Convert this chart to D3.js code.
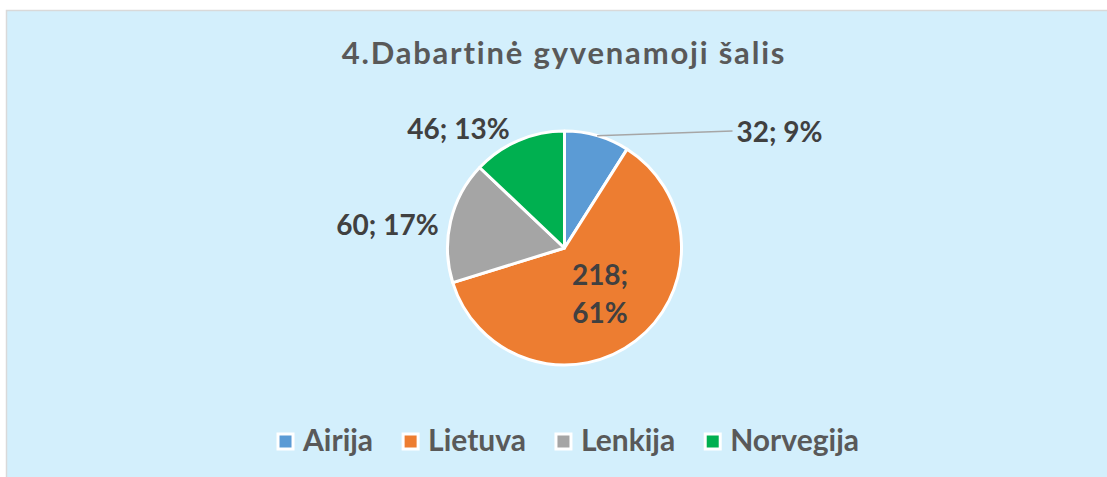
<!DOCTYPE html>
<html>
<head>
<meta charset="utf-8">
<script src="https://cdn.jsdelivr.net/npm/d3@7"></script>
<style>
  body { margin: 0; background: #fff; }
  svg text { font-family: Lato, "Open Sans", sans-serif; font-weight: bold; }
</style>
</head>
<body>
<svg id="chart"></svg>
<script>
var title = '4.Dabartinė gyvenamoji šalis';
var countries = ['Airija', 'Lietuva', 'Lenkija', 'Norvegija'];
var counts = [32, 218, 60, 46];
var percents = ['9%', '61%', '17%', '13%'];

var colors = ['#5B9BD5', '#ED7D31', '#A5A5A5', '#00B050'];

var w = 1107;
var h = 477;
var cx = 564.5;
var cy = 248;
var radius = 117;

// outside label spots relative to the pie centre (null = inside the slice)
var label_spots = [
	{dx: 215, dy: -116, anchor: 'middle', leader: true},
	null,
	{dx: -177, dy: -23, anchor: 'middle'},
	{dx: -106, dy: -119.5, anchor: 'middle'}
];

var svg = d3.select('#chart')
	.attr('width', w)
	.attr('height', h);

svg.append('rect')
	.attr('x', 6.5)
	.attr('y', 10.5)
	.attr('width', w)
	.attr('height', h)
	.attr('fill', '#D3EFFC')
	.attr('stroke', '#D9D9D9')
	.attr('stroke-width', 1.5);

svg.append('text')
	.text(title)
	.attr('x', 564)
	.attr('y', 64)
	.attr('text-anchor', 'middle')
	.attr('font-size', '31px')
	.attr('letter-spacing', '1.8px')
	.attr('fill', '#595959');

var data = countries.map(function(c, i) {
	return {name: c, value: counts[i], pct: percents[i], color: colors[i], spot: label_spots[i]};
});

var pie = d3.pie()
	.value(function(d) { return d.value; })
	.sort(null);

var arc = d3.arc()
	.innerRadius(0)
	.outerRadius(radius);

var arcs = pie(data);

var g = svg.append('g')
	.attr('transform', 'translate(' + cx + ',' + cy + ')');

g.selectAll('path')
	.data(arcs)
	.join('path')
	.attr('d', arc)
	.attr('fill', function(d) { return d.data.color; })
	.attr('stroke', '#fff')
	.attr('stroke-width', 3)
	.attr('stroke-linejoin', 'round');

// leader line
arcs.forEach(function(d) {
	var s = d.data.spot;
	if (s && s.leader) {
		var mid = (d.startAngle + d.endAngle) / 2;
		g.append('line')
			.attr('x1', Math.sin(mid) * radius)
			.attr('y1', -Math.cos(mid) * radius)
			.attr('x2', s.dx - 47)
			.attr('y2', s.dy - 1)
			.attr('stroke', '#A6A6A6')
			.attr('stroke-width', 1.5);
	}
});

arcs.forEach(function(d) {
	var s = d.data.spot;
	if (s) {
		g.append('text')
			.text(d.data.value + '; ' + d.data.pct)
			.attr('x', s.dx)
			.attr('y', s.dy + 10)
			.attr('text-anchor', s.anchor)
			.attr('font-size', '28px')
			.attr('fill', '#404040');
	} else {
		var c = arc.centroid(d);
		var t = g.append('text')
			.attr('text-anchor', 'middle')
			.attr('font-size', '28px')
			.attr('fill', '#404040');
		t.append('tspan')
			.attr('x', c[0])
			.attr('y', c[1] - 9)
			.text(d.data.value + ';');
		t.append('tspan')
			.attr('x', c[0])
			.attr('y', c[1] + 29)
			.text(d.data.pct);
	}
});

// legend
var legend = svg.append('g');
var items = legend.selectAll('g')
	.data(data)
	.join('g');

items.append('rect')
	.attr('x', 0)
	.attr('y', -17)
	.attr('width', 15)
	.attr('height', 15)
	.attr('fill', function(d) { return d.color; })
	.attr('stroke', '#fff')
	.attr('stroke-width', 3);

items.append('text')
	.text(function(d) { return d.name; })
	.attr('x', 25)
	.attr('y', 0)
	.attr('font-size', '30px')
	.attr('fill', '#595959');

var xpos = 0;
items.each(function() {
	var node = d3.select(this);
	node.attr('transform', 'translate(' + xpos + ',0)');
	xpos += this.getBBox().width + 30;
});
var legend_w = xpos - 30;
legend.attr('transform', 'translate(' + (568.5 - legend_w / 2) + ',451)');
</script>
</body>
</html>
